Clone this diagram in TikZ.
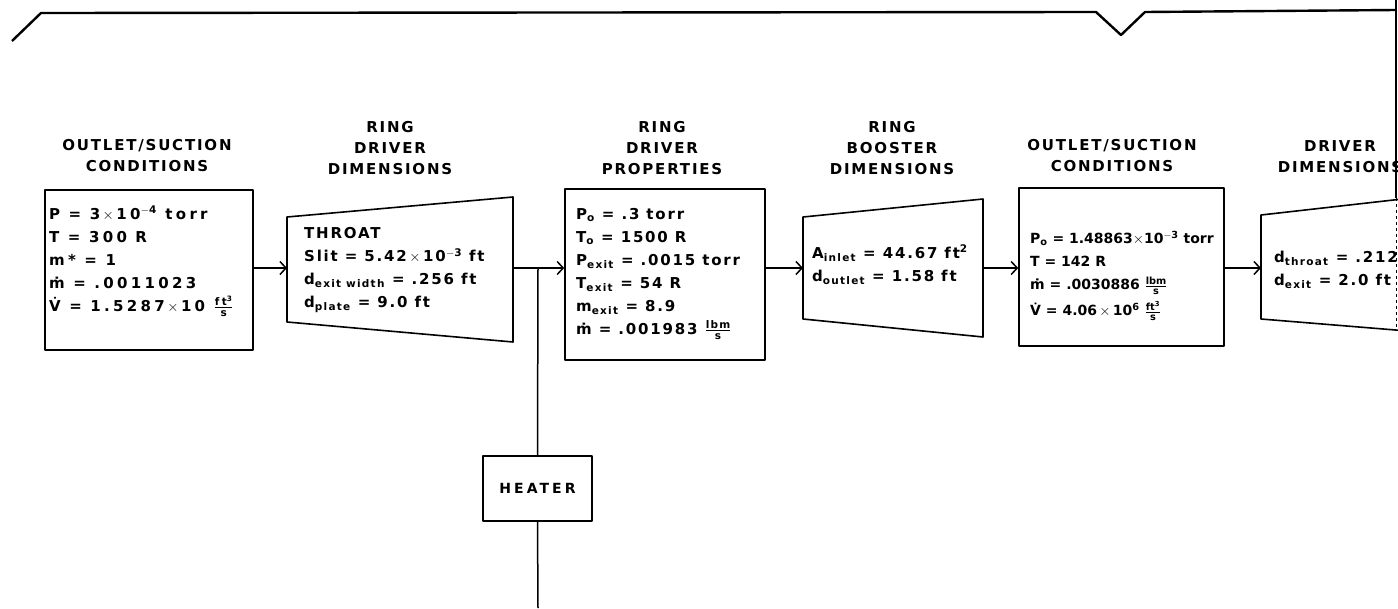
\documentclass[tikz,border=0pt]{standalone}
\usepackage{fontspec}
\usepackage{amsmath}
\setmainfont{DejaVu Sans}
\newfontfamily\hand[LetterSpace=12]{DejaVu Sans}
\newfontfamily\handwide[LetterSpace=22]{DejaVu Sans}
\usetikzlibrary{arrows.meta,positioning}

\newcommand{\mdot}{ṁ}
\newcommand{\vdot}{V̇}
\newcommand{\ufr}[2]{$\frac{\text{#1}}{\text{#2}}$}
\newcommand{\tms}{\,$\times$\,}

\tikzset{
	ttl/.style={font=\hand\bfseries\fontsize{15}{21}\selectfont, align=center, anchor=north, inner sep=0pt},
	data/.style={font=\hand\bfseries\fontsize{15}{23}\selectfont, align=left, anchor=north west, inner sep=0pt},
	blk/.style={draw, line width=1.6pt, inner sep=0pt},
	flow/.style={-{Straight Barb[length=6pt,width=13pt,line width=1.5pt]}, line width=1.5pt},
}

\begin{document}
\begin{tikzpicture}[x=1pt,y=-1pt,line join=round]
	\useasboundingbox (0,0) rectangle (1398,608);
	\clip (0,0) rectangle (1398,608);

	% sheet edge
	\draw[line width=2.4pt] (12,41) -- (41,13) -- (1096,12) -- (1121,35) -- (1145,12) -- (1396,10);
	\draw[line width=1.4pt] (1396,0) -- (1396,198);
	\draw[line width=0.8pt, dashed] (1396,198) -- (1396,330);

	% outlet / suction conditions
	\node[blk, minimum width=208, minimum height=160] (cond1) at (149,270) {};
	\node[ttl] (cond1-t) at (147,139) {OUTLET/SUCTION\\CONDITIONS};
	\node[data, font=\handwide\bfseries\fontsize{15}{23}\selectfont] (cond1-d) at (49,206) {P = 3\tms 10\textsuperscript{$-$4} torr\\T = 300 R\\m* = 1\\\mdot{} = .0011023\\\vdot{} = 1.5287\tms 10 \ufr{ft\textsuperscript{3}}{s}};

	% ring driver dimensions
	\draw[line width=1.6pt] (287,217) -- (513,197) -- (513,342) -- (287,322) -- cycle;
	\coordinate (ddim-in) at (287,268);
	\coordinate (ddim-out) at (513,268);
	\node[ttl] (ddim-t) at (390,121) {RING\\DRIVER\\DIMENSIONS};
	\node[data] (ddim-d) at (304,227) {THROAT\\Slit = 5.42\tms 10\textsuperscript{$-$3} ft\\d\textsubscript{exit width} = .256 ft\\d\textsubscript{plate} = 9.0 ft};

	% ring driver properties
	\node[blk, minimum width=200, minimum height=171] (prop) at (665,274.5) {};
	\node[ttl] (prop-t) at (662,121) {RING\\DRIVER\\PROPERTIES};
	\node[data] (prop-d) at (576,208) {P\textsubscript{o} = .3 torr\\T\textsubscript{o} = 1500 R\\P\textsubscript{exit} = .0015 torr\\T\textsubscript{exit} = 54 R\\m\textsubscript{exit} = 8.9\\\mdot{} = .001983 \ufr{lbm}{s}};

	% ring booster dimensions
	\draw[line width=1.6pt] (803,217) -- (983,199) -- (983,337) -- (803,319) -- cycle;
	\coordinate (bdim-in) at (803,268);
	\coordinate (bdim-out) at (983,268);
	\node[ttl] (bdim-t) at (892,121) {RING\\BOOSTER\\DIMENSIONS};
	\node[data] (bdim-d) at (812,245) {A\textsubscript{inlet} = 44.67 ft\textsuperscript{2}\\d\textsubscript{outlet} = 1.58 ft};

	% outlet / suction conditions
	\node[blk, minimum width=205, minimum height=158] (cond2) at (1121.5,267) {};
	\node[ttl] (cond2-t) at (1112,139) {OUTLET/SUCTION\\CONDITIONS};
	\node[data, font=\rmfamily\bfseries\fontsize{14}{23}\selectfont] (cond2-d) at (1030,231) {P\textsubscript{o} = 1.48863$\times$10\textsuperscript{$-$3} torr\\T = 142 R\\\mdot{} = .0030886 \ufr{lbm}{s}\\[3pt]\vdot{} = 4.06\tms 10\textsuperscript{6} \ufr{ft\textsuperscript{3}}{s}};

	% driver dimensions
	\draw[line width=1.6pt] (1420,197) -- (1261,215) -- (1261,319) -- (1420,332);
	\coordinate (ddim2-in) at (1261,268);
	\node[ttl] (ddim2-t) at (1340,140) {DRIVER\\DIMENSIONS};
	\node[data] (ddim2-d) at (1274,251) {d\textsubscript{throat} = .212\\d\textsubscript{exit} = 2.0 ft};

	% heater
	\node[blk, minimum width=109, minimum height=65, font=\handwide\bfseries\fontsize{14}{16}\selectfont] (heater) at (537.5,488.5) {HEATER};
	\coordinate (tee) at (538,268);
	\coordinate (drain) at (538,608);

	% flow lines
	\draw[flow] (cond1.east |- ddim-in) -- (ddim-in);
	\draw[line width=1.5pt] (ddim-out) -- (tee);
	\draw[flow] (tee) -- (prop.west |- tee);
	\draw[flow] (prop.east |- bdim-in) -- (bdim-in);
	\draw[flow] (bdim-out) -- (cond2.west |- bdim-out);
	\draw[flow] (cond2.east |- ddim2-in) -- (ddim2-in);
	\draw[line width=1.5pt] (tee) -- (heater.north);
	\draw[line width=1.5pt] (heater.south) -- (drain);
\end{tikzpicture}
\end{document}
